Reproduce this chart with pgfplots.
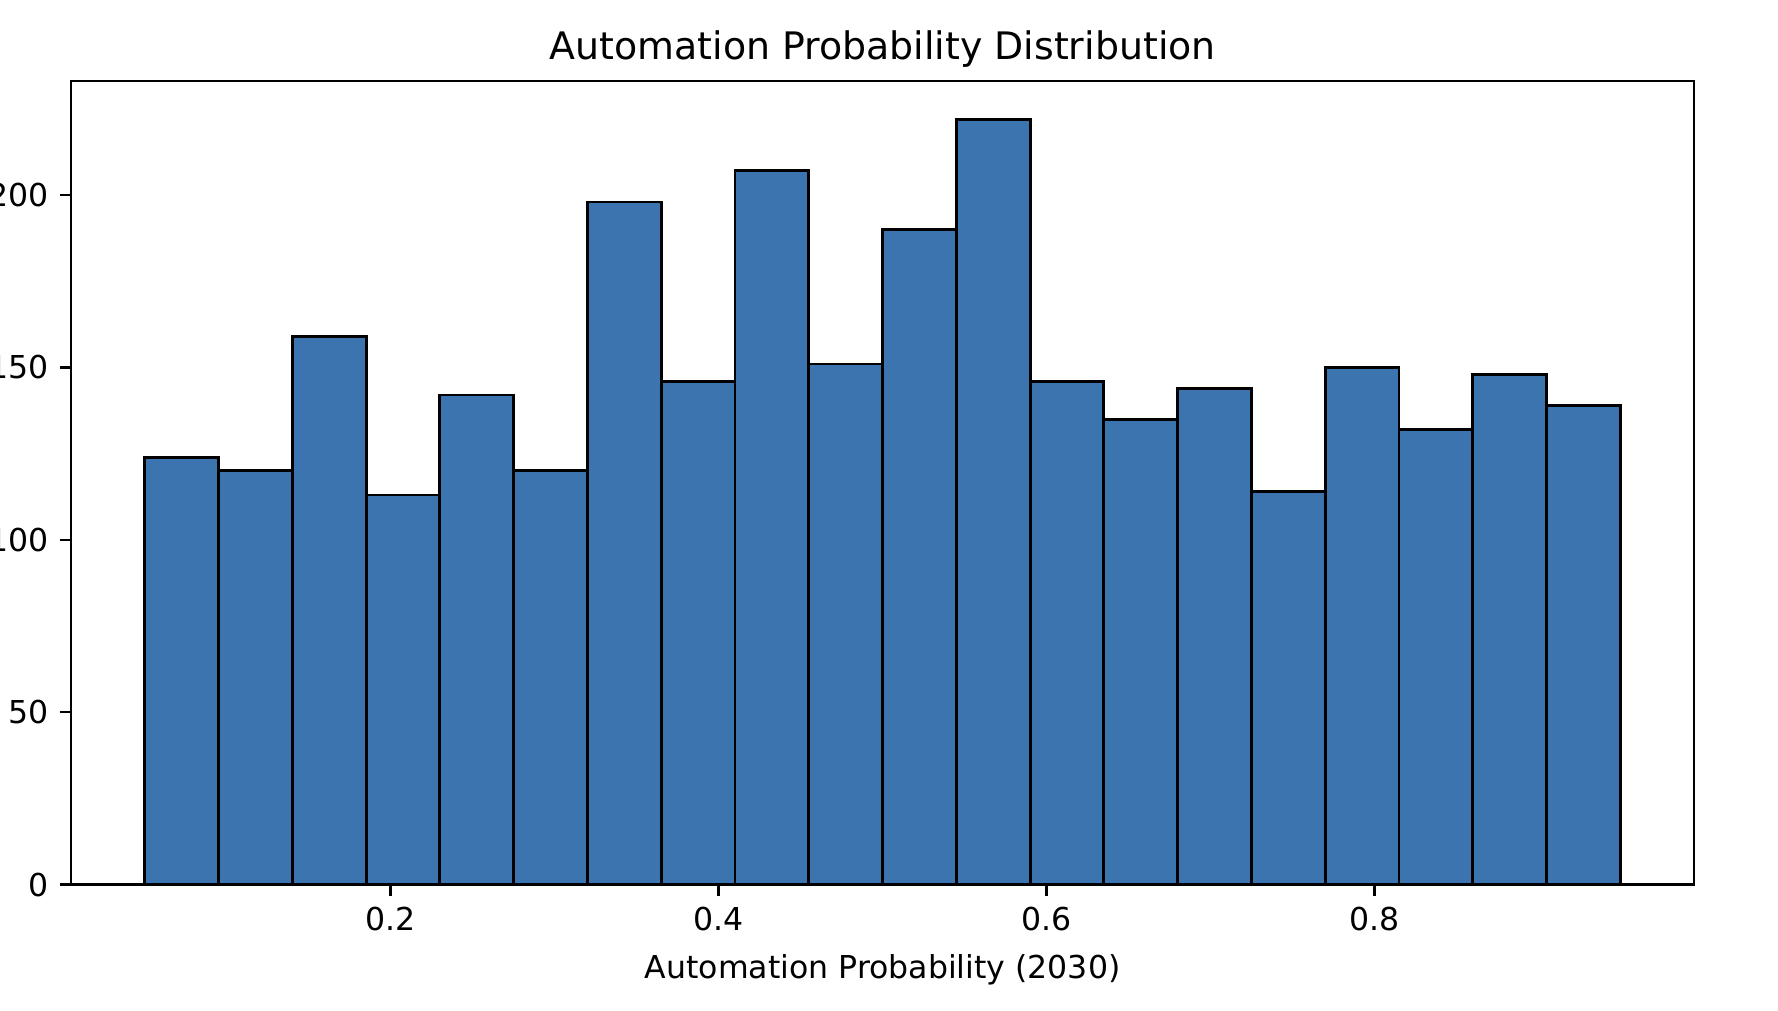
\documentclass[border=0pt]{standalone}
\usepackage{fontspec}
\setmainfont{DejaVu Sans}
\usepackage{pgfplots}
\pgfplotsset{compat=1.18}
\definecolor{barblue}{RGB}{59,116,174}
\begin{document}
\begin{tikzpicture}
\begin{axis}[
  at={(0,0)}, anchor=south west,
  width=507.2pt, height=251.1pt, scale only axis,
  xmin=0.005, xmax=0.995, ymin=0, ymax=233.1,
  xtick={0.2,0.4,0.6,0.8}, ytick={0,50,100,150,200},
  xticklabel style={/pgf/number format/fixed,/pgf/number format/precision=1},
  /pgf/number format/assume math mode=true,
  tick label style={font=\fontsize{9.86}{12}\selectfont, text=black},
  xtick pos=bottom, ytick pos=left,
  tick align=outside, major tick length=3.5pt,
  tick style={black, line width=0.8pt},
  axis line style={black, line width=0.8pt},
  title={Automation Probability Distribution},
  title style={font=\fontsize{11.84}{14}\selectfont, at={(0.5,1)}, anchor=center, yshift=4pt},
  xlabel={Automation Probability (2030)},
  xlabel style={font=\fontsize{9.86}{12}\selectfont, at={(0.5,0)}, anchor=center, yshift=-26.5pt},
]
\addplot[ybar interval, fill=barblue, draw=black, line width=0.9pt] coordinates {
(0.050,124) (0.095,120) (0.140,159) (0.185,113) (0.230,142)
(0.275,120) (0.320,198) (0.365,146) (0.410,207) (0.455,151)
(0.500,190) (0.545,222) (0.590,146) (0.635,135) (0.680,144)
(0.725,114) (0.770,150) (0.815,132) (0.860,148) (0.905,139)
(0.950,139)
};
\end{axis}
\pgfresetboundingbox
\useasboundingbox (-22.19pt,-39.25pt) rectangle (533.4pt,276.4pt);
\end{tikzpicture}
\end{document}
